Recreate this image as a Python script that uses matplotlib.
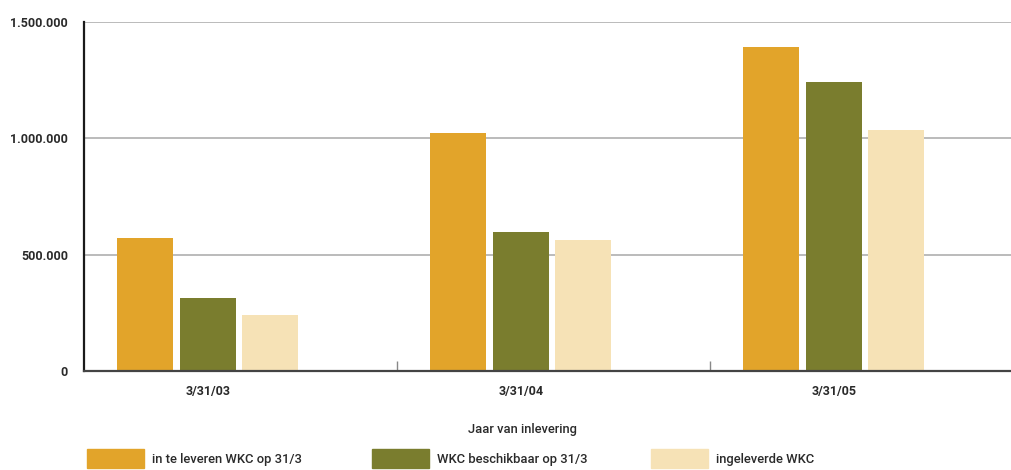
import numpy as np
import matplotlib
matplotlib.use('Agg')
import matplotlib.pyplot as plt
from matplotlib.patches import Rectangle
from matplotlib.ticker import FuncFormatter

plt.rcParams['font.family'] = ['Roboto', 'DejaVu Sans']

years = ['3/31/03', '3/31/04', '3/31/05']
te_leveren = [570000, 1025000, 1391000]
beschikbaar = [313000, 597000, 1240000]
ingeleverd = [240000, 562000, 1034000]

series = [
    ('in te leveren WKC op 31/3', te_leveren, '#E2A42A'),
    ('WKC beschikbaar op 31/3', beschikbaar, '#7A7D2E'),
    ('ingeleverde WKC', ingeleverd, '#F6E2B6'),
]

txt = '#2a2a2a'

fig = plt.figure(figsize=(10.11, 4.70), dpi=100)
ax = fig.add_axes([0.083, 0.2106, 0.917, 0.7426])

x = np.arange(len(years))
centre = x - 0.104
width = 0.179
step = 0.2
for i, (name, vals, col) in enumerate(series):
    ax.bar(centre + (i - 1) * step, vals, width, color=col, zorder=3)

ax.set_xlim(-0.5, 2.462)
ax.set_ylim(0, 1500000)
ax.set_yticks([0, 500000, 1000000, 1500000])
ax.yaxis.set_major_formatter(FuncFormatter(lambda v, _: '{:,.0f}'.format(v).replace(',', '.')))
ax.set_xticks(centre)
ax.set_xticklabels(years)
ax.set_xticks([0.5, 1.5], minor=True)

ax.grid(axis='y', color='#A8A8A8', linewidth=1.1, zorder=0)
for s in ['top', 'right']:
    ax.spines[s].set_visible(False)
ax.spines['left'].set_color('#1a1a1a')
ax.spines['left'].set_linewidth(1.6)
ax.spines['bottom'].set_color('#444444')
ax.spines['bottom'].set_linewidth(1.6)
ax.spines['left'].set_zorder(4)
ax.spines['bottom'].set_zorder(4)

ax.tick_params(axis='both', which='major', length=0, labelsize=9, labelcolor=txt)
ax.tick_params(axis='y', pad=11.5)
ax.tick_params(axis='x', pad=10)
ax.tick_params(axis='x', which='minor', direction='in', length=7, color='#888888', width=1)
for lab in ax.get_xticklabels() + ax.get_yticklabels():
    lab.set_fontweight('bold')

ax.set_xlabel('Jaar van inlevering', fontsize=9.3, color=txt, fontweight='medium')
ax.xaxis.set_label_coords(0.4725, -0.15)

# legend row along the bottom
leg_x = [87, 372, 651]
for (name, vals, col), lx in zip(series, leg_x):
    fig.patches.append(Rectangle((lx / 1011, 2 / 470), 57 / 1011, 19 / 470,
                                 transform=fig.transFigure, color=col, figure=fig))
    fig.text((lx + 65) / 1011, 11 / 470, name, fontsize=9.4, color=txt,
             va='center', ha='left', fontweight='medium')

fig.savefig('out.png', dpi=100, facecolor='white')
